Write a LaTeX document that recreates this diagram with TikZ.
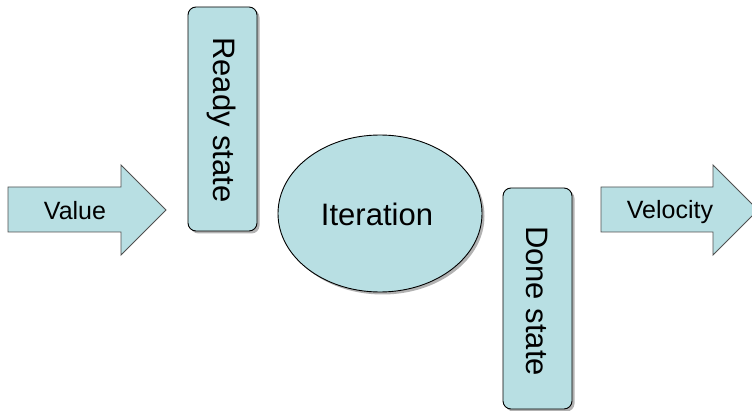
\documentclass[tikz,border=0pt]{standalone}
\usepackage{fontspec}
\setmainfont{Liberation Sans}
\usetikzlibrary{shadows,shapes.geometric}
\definecolor{boxfill}{RGB}{184,223,227}
\definecolor{arrowline}{RGB}{80,80,80}
\tikzset{
  statebox/.style={draw=black, line width=0.9pt, fill=boxfill, rounded corners=8pt,
    drop shadow={shadow xshift=2.5pt, shadow yshift=-2.5pt, opacity=0.3, fill=black}},
  bigarrow/.style={draw=arrowline, line width=0.9pt, fill=boxfill},
  arrowtext/.style={font=\fontsize{25}{30}\selectfont, inner sep=0pt},
  bigtext/.style={font=\fontsize{31}{36}\selectfont, inner sep=0pt},
}
\begin{document}
\begin{tikzpicture}[x=1pt,y=-1pt]
\useasboundingbox (0,0) rectangle (752,411);
% Value arrow
\draw[bigarrow] (8,187) -- (121,187) -- (121,165) -- (166,210) -- (121,255) -- (121,232) -- (8,232) -- cycle;
\node[arrowtext] (value) at (75,211) {Value};
% Ready state
\draw[statebox] (188,7) rectangle (257,231);
\node[bigtext, rotate=-90] (ready) at (221.5,120) {Ready state};
% Iteration
\draw[draw=black, line width=0.9pt, fill=boxfill,
  drop shadow={shadow xshift=2.5pt, shadow yshift=-2.5pt, opacity=0.3, fill=black}]
  (380,213.5) ellipse [x radius=102, y radius=78.5];
\node[bigtext] (iter) at (377,214) {Iteration};
% Done state
\draw[statebox] (503,188) rectangle (572,409);
\node[bigtext, rotate=-90] (done) at (537.5,301) {Done state};
% Velocity arrow
\draw[bigarrow] (601,187) -- (713,187) -- (713,165) -- (758,210) -- (713,255) -- (713,232) -- (601,232) -- cycle;
\node[arrowtext] (velocity) at (670,212) {Velocity};
\end{tikzpicture}
\end{document}
